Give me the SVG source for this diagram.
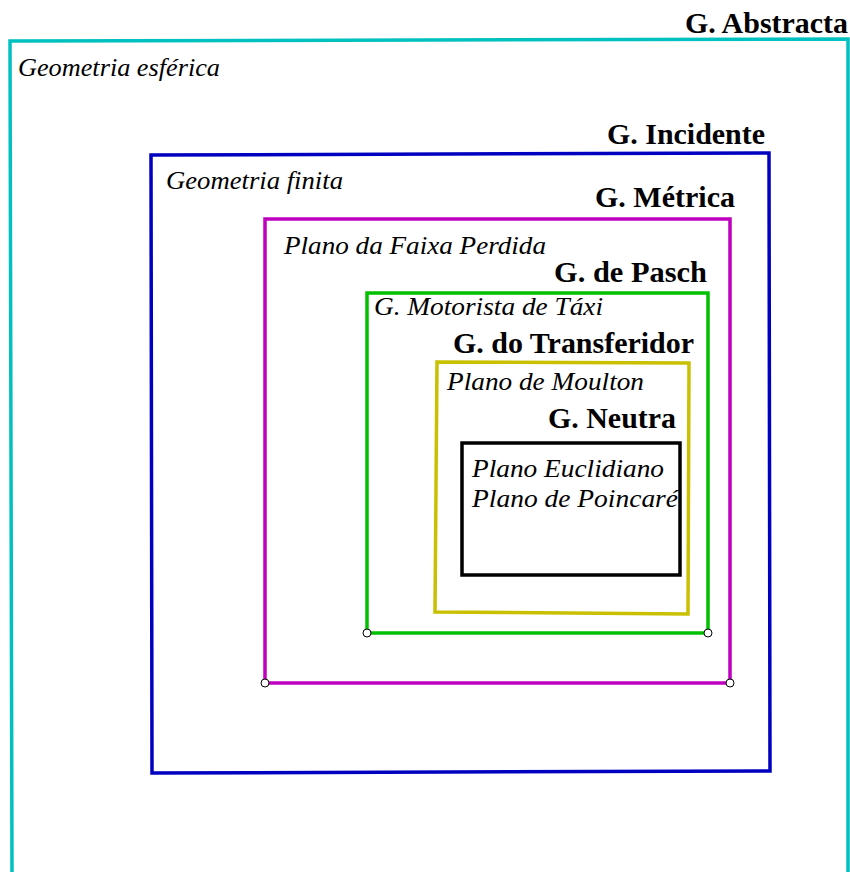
<svg xmlns="http://www.w3.org/2000/svg" width="850" height="872" viewBox="0 0 850 872">
<style>
.b{font-family:"Liberation Serif","Times New Roman",serif;font-weight:bold;font-size:29px;fill:#000}
.i{font-family:"Liberation Serif","Times New Roman",serif;font-style:italic;font-size:25px;fill:#000}
.box{fill:none;stroke-width:3.5;stroke-linejoin:miter}
.pt{fill:#fff;stroke:#000;stroke-width:1}
</style>
<rect width="850" height="872" fill="#fff"/>
<g id="abstracta">
<path class="box" stroke="#00c0c0" d="M12,874 L10,41 L848,39 L848,874"/>
<text class="b" x="685" y="33" textLength="163" lengthAdjust="spacingAndGlyphs">G. Abstracta</text>
<text class="i" x="18" y="76" textLength="202" lengthAdjust="spacingAndGlyphs">Geometria esférica</text>
</g>
<g id="incidente">
<path class="box" stroke="#0000c0" d="M151,155 L769,153 L770,771 L152,773 Z"/>
<text class="b" x="607" y="144" textLength="158" lengthAdjust="spacingAndGlyphs">G. Incidente</text>
<text class="i" x="166" y="189" textLength="177" lengthAdjust="spacingAndGlyphs">Geometria finita</text>
</g>
<g id="metrica">
<path class="box" stroke="#c000c0" d="M265,219 L730,219 L730,683 L265,683 Z"/>
<text class="b" x="595" y="207" textLength="140" lengthAdjust="spacingAndGlyphs">G. Métrica</text>
<text class="i" x="284" y="254" textLength="262" lengthAdjust="spacingAndGlyphs">Plano da Faixa Perdida</text>
<circle class="pt" cx="265" cy="683" r="4"/>
<circle class="pt" cx="730" cy="683" r="4"/>
</g>
<g id="pasch">
<path class="box" stroke="#00c000" d="M367,293 L708,293 L708,633 L367,633 Z"/>
<text class="b" x="554" y="282" textLength="153" lengthAdjust="spacingAndGlyphs">G. de Pasch</text>
<text class="i" x="374" y="315" textLength="229" lengthAdjust="spacingAndGlyphs">G. Motorista  de Táxi</text>
<circle class="pt" cx="367" cy="633" r="4"/>
<circle class="pt" cx="708" cy="633" r="4"/>
</g>
<g id="transferidor">
<path class="box" stroke="#c8c000" d="M437,362 L689,363 L688,614 L435,612 Z"/>
<text class="b" x="453" y="353" textLength="241" lengthAdjust="spacingAndGlyphs">G. do Transferidor</text>
<text class="i" x="447" y="390" textLength="197" lengthAdjust="spacingAndGlyphs">Plano de Moulton</text>
</g>
<g id="neutra">
<path class="box" stroke="#000" d="M462,443 L680,443 L680,575 L462,575 Z"/>
<text class="b" x="548" y="428" textLength="128" lengthAdjust="spacingAndGlyphs">G. Neutra</text>
<text class="i" x="472" y="477" textLength="192" lengthAdjust="spacingAndGlyphs">Plano Euclidiano</text>
<text class="i" x="472" y="507" textLength="206" lengthAdjust="spacingAndGlyphs">Plano de Poincaré</text>
</g>
<g id="connectors"></g>
</svg>
